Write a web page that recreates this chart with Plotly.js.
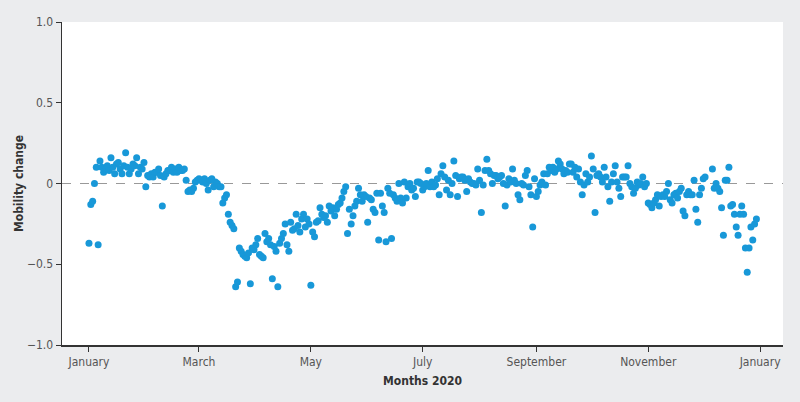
<!DOCTYPE html>
<html>
<head>
<meta charset="utf-8">
<script src="https://cdn.plot.ly/plotly-3.0.1.min.js"></script>
<style>html,body{margin:0;padding:0;background:#ebecee;}#chart{width:800px;height:402px;}</style>
</head>
<body>
<div id="chart"></div>
<script>
// Daily mobility change values for 2020, starting 1 January (null = no visible point)
const startDate = '2020-01-01';
const mobilityJanFeb = [
  -0.37,-0.13,-0.11,0.00,0.10,-0.38,0.14,0.10,0.07,0.09,0.11,0.08,0.16,0.10,0.06,0.12,0.13,0.09,0.06,0.11,
  0.19,0.10,0.06,0.09,0.12,0.11,0.16,0.06,0.10,0.09,0.13,-0.02,0.05,0.04,0.06,0.04,0.07,0.07,0.09,0.05,
  -0.14,0.04,0.06,0.08,0.08,0.10,0.07,0.09,0.07,0.10,0.08,0.08,0.09,0.02,-0.05,-0.04,-0.05,-0.03,0.01,0.02
];
const mobilityMarApr = [
  0.03,0.02,0.01,0.03,0.00,-0.04,0.02,0.03,-0.02,0.01,0.00,-0.02,-0.02,-0.12,-0.09,-0.07,-0.19,-0.24,-0.26,-0.28,
  -0.64,-0.61,-0.40,-0.42,-0.44,-0.45,-0.46,-0.43,-0.62,-0.40,-0.41,-0.38,-0.34,-0.44,-0.45,-0.46,-0.31,-0.36,-0.34,-0.38,
  -0.59,-0.39,-0.42,-0.64,-0.37,-0.34,-0.31,-0.25,-0.38,-0.42,-0.24,-0.29,-0.28,-0.19,-0.26,-0.30,-0.22,-0.19,-0.27,-0.22,
  -0.25
];
const mobilityMayJun = [
  -0.63,-0.30,-0.33,-0.24,-0.23,-0.15,-0.19,-0.21,-0.20,-0.24,-0.14,-0.17,-0.15,-0.20,-0.16,-0.13,-0.12,-0.09,-0.05,-0.02,
  -0.31,-0.16,-0.25,-0.20,-0.14,-0.11,-0.03,-0.07,-0.11,-0.07,-0.08,-0.24,-0.09,-0.10,-0.16,-0.18,-0.06,-0.35,-0.06,-0.14,
  -0.18,-0.36,-0.03,-0.06,-0.34,-0.07,-0.09,-0.11,0.00,-0.09,-0.12,0.01,-0.09,-0.02,0.00,-0.04,-0.03,-0.08,0.01,0.01,
  0.00
];
const mobilityJulAug = [
  -0.04,-0.02,0.00,0.08,-0.02,0.01,-0.02,-0.01,0.03,-0.07,0.06,0.11,0.04,-0.04,0.02,-0.07,0.00,0.14,0.05,-0.08,
  0.03,0.04,0.04,0.02,-0.05,0.03,0.01,0.00,0.00,-0.01,0.09,0.02,-0.18,-0.01,0.08,0.15,0.08,0.06,0.00,0.05,
  0.05,0.03,0.04,0.05,0.00,-0.14,-0.01,0.03,0.01,0.09,0.02,0.00,-0.07,-0.10,0.00,-0.01,0.05,0.08,-0.02,-0.07,
  -0.27,0.03
];
const mobilitySepOct = [
  -0.08,-0.05,-0.01,0.01,0.06,-0.01,0.06,0.10,0.08,0.10,0.07,0.09,0.14,0.12,0.09,0.06,0.08,0.07,0.12,0.12,
  0.07,0.10,0.04,0.09,0.01,-0.07,-0.01,0.06,0.01,0.04,0.17,0.09,-0.18,0.05,0.06,0.04,0.01,0.10,0.04,-0.02,
  -0.11,0.01,0.06,0.11,0.01,-0.03,-0.08,0.04,0.04,0.04,0.11,0.00,-0.02,-0.06,-0.03,0.01,-0.01,0.00,0.04,-0.02,
  0.00
];
const mobilityNovDec = [
  -0.12,-0.13,-0.15,-0.12,-0.10,-0.07,-0.14,-0.08,-0.07,-0.08,-0.05,0.00,-0.10,-0.12,-0.07,-0.06,-0.09,-0.05,-0.03,-0.17,
  -0.20,-0.07,-0.05,-0.07,-0.07,0.02,-0.16,-0.24,-0.07,-0.03,0.03,0.04,null,null,null,0.09,-0.03,0.00,-0.03,-0.05,
  -0.15,-0.32,0.02,0.02,0.10,-0.14,-0.13,-0.19,-0.27,-0.32,-0.19,-0.14,-0.19,-0.40,-0.55,-0.40,-0.27,-0.35,-0.25,-0.22
];

const tickDates = ['2020-01-01','2020-03-01','2020-05-01','2020-07-01','2020-09-01','2020-11-01','2021-01-01'];
const tickLabels = ['January','March','May','July','September','November','January'];
const yTickVals = [-1, -0.5, 0, 0.5, 1];
const yTickLabels = ['\u22121.0','\u22120.5','0','0.5','1.0'];

const values = [].concat(mobilityJanFeb, mobilityMarApr, mobilityMayJun, mobilityJulAug, mobilitySepOct, mobilityNovDec);
const dates = values.map((v, i) => {
  const d = new Date(startDate + 'T00:00:00Z');
  d.setUTCDate(d.getUTCDate() + i);
  return d.toISOString().slice(0, 10);
});

const fontFam = '"Liberation Sans Narrow", "DejaVu Sans Condensed", "Roboto Condensed", "Arial Narrow", sans-serif';

const trace = {
  type: 'scatter',
  mode: 'markers',
  x: dates,
  y: values,
  marker: {color: '#1898d8', size: 7},
  hoverinfo: 'x+y'
};

const layout = {
  width: 800, height: 402,
  paper_bgcolor: '#ebecee',
  plot_bgcolor: '#ffffff',
  margin: {l: 62, r: 17, t: 22, b: 57},
  showlegend: false,
  font: {family: fontFam, color: '#444', size: 12},
  xaxis: {
    type: 'date',
    range: ['2019-12-17 07:00', '2021-01-13 12:00'],
    tickvals: tickDates,
    ticktext: tickLabels,
    ticks: 'outside', ticklen: 5, tickcolor: '#333', tickwidth: 1,
    showline: true, linecolor: '#333', linewidth: 1.5,
    showgrid: false, zeroline: false,
    tickfont: {family: fontFam, size: 12, color: '#555'},
    title: {text: '<b>Months 2020</b>', font: {family: fontFam, size: 12, color: '#333'}, standoff: 8}
  },
  yaxis: {
    range: [-1, 1],
    tickvals: yTickVals,
    ticktext: yTickLabels,
    ticks: 'outside', ticklen: 5, tickcolor: '#333', tickwidth: 1,
    showline: true, linecolor: '#333', linewidth: 1.5,
    showgrid: false, zeroline: false,
    tickfont: {family: fontFam, size: 12, color: '#555'},
    title: {text: '<b>Mobility change</b>', font: {family: fontFam, size: 12, color: '#333'}, standoff: 0}
  },
  shapes: [{
    type: 'line', xref: 'paper', x0: 0, x1: 1, yref: 'y', y0: 0, y1: 0,
    line: {color: '#999', width: 1, dash: 'dash'}, layer: 'below'
  }]
};

Plotly.newPlot('chart', [trace], layout, {displayModeBar: false, staticPlot: true});
</script>
</body>
</html>
